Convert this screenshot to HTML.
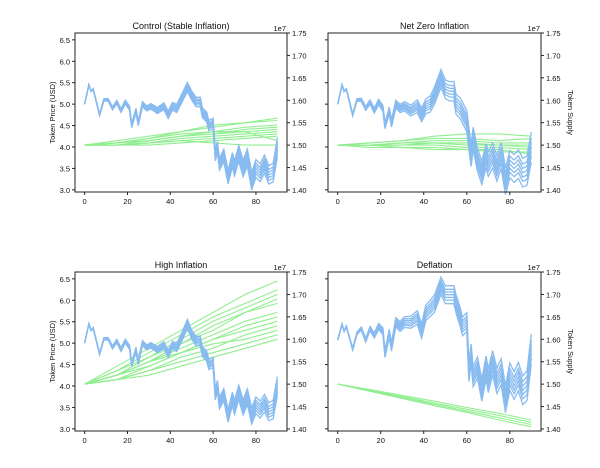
<!DOCTYPE html>
<html><head><meta charset="utf-8"><style>
html,body{margin:0;padding:0;background:#fff;}
svg{display:block;font-family:"Liberation Sans","DejaVu Sans",sans-serif;}
</style></head><body>
<svg id="chart" width="600" height="468" viewBox="0 0 600 468"></svg>
<script>
// ---- data ----
const days = [0,2,3,4,7,9,11,13,15,17,19,21,22,24,25,27,29,31,34,37,39,41,43,45,48,50,52,54,55,57,58,60,61,62,63,65,67,69,70,72,74,76,78,80,82,84,86,88,90];
const priceControl = [5.0,5.45,5.3,5.35,4.75,5.1,5.1,4.9,5.05,4.85,5.05,4.9,4.5,4.85,4.55,5.0,4.9,4.95,4.85,4.95,4.75,4.95,4.9,5.1,5.4,5.2,5.05,5.05,4.8,4.7,4.5,4.55,3.8,4.0,3.6,3.8,3.3,3.7,3.5,3.85,3.5,3.75,3.2,3.5,3.4,3.6,3.35,3.4,4.0];
const priceNetZero = [5.0,5.45,5.3,5.35,4.75,5.1,5.1,4.9,5.05,4.85,5.05,4.9,4.5,4.85,4.55,5.0,4.9,4.95,4.85,4.95,4.75,4.95,5.0,5.2,5.6,5.35,5.3,5.3,5.0,4.9,4.8,4.6,4.2,3.8,4.2,3.7,3.4,3.8,3.6,3.8,3.5,3.8,3.2,3.6,3.5,3.6,3.4,3.45,4.0];
const priceHigh = [5.0,5.45,5.3,5.35,4.75,5.1,5.1,4.9,5.05,4.85,5.05,4.9,4.5,4.85,4.55,5.0,4.9,4.95,4.85,4.95,4.75,4.95,4.9,5.1,5.45,5.2,5.05,5.05,4.8,4.7,4.5,4.55,3.8,4.0,3.6,3.8,3.3,3.7,3.5,3.85,3.5,3.75,3.3,3.55,3.45,3.6,3.4,3.45,4.0];
const priceDeflation = [5.07,5.44,5.28,5.39,4.86,5.23,5.34,5.07,5.34,5.18,5.39,5.28,4.75,5.23,4.91,5.49,5.39,5.49,5.49,5.6,5.28,5.71,5.81,5.92,6.34,6.13,6.13,6.13,5.92,5.6,5.39,5.49,4.33,4.75,4.22,4.43,3.9,4.43,4.12,4.54,4.12,4.33,3.69,4.22,4.01,4.22,3.9,4.01,4.86];
const spreadDays = [0,15,30,45,60,75,90];
const spreadControl = [0,0.04,0.06,0.1,0.12,0.2,0.22];
const spreadNetZero = [0,0.05,0.1,0.2,0.25,0.3,0.35];
const spreadHigh = [0,0.04,0.06,0.1,0.12,0.18,0.22];
const spreadDeflation = [0,0.05,0.12,0.2,0.22,0.3,0.35];
const runFractions = [-1,-0.6,-0.3,0,0.3,0.6,1];
const supplyControl = [
[1.50,1.505,1.515,1.53,1.54,1.55,1.56],[1.50,1.51,1.52,1.53,1.545,1.55,1.555],
[1.50,1.505,1.51,1.52,1.53,1.54,1.545],[1.50,1.50,1.51,1.52,1.525,1.535,1.54],
[1.50,1.505,1.515,1.525,1.53,1.53,1.535],[1.50,1.50,1.505,1.515,1.52,1.525,1.53],
[1.50,1.50,1.505,1.51,1.515,1.52,1.525],[1.50,1.50,1.50,1.505,1.51,1.515,1.52],
[1.50,1.50,1.505,1.51,1.505,1.50,1.50],[1.50,1.505,1.51,1.52,1.525,1.53,1.51]];
const supplyNetZero = [
[1.50,1.505,1.51,1.52,1.525,1.525,1.52],[1.50,1.505,1.51,1.515,1.515,1.51,1.515],
[1.50,1.50,1.505,1.51,1.51,1.505,1.505],[1.50,1.50,1.50,1.505,1.50,1.50,1.50],
[1.50,1.50,1.50,1.50,1.495,1.495,1.49],[1.50,1.495,1.495,1.495,1.49,1.485,1.485],
[1.50,1.50,1.505,1.505,1.505,1.50,1.495],[1.50,1.50,1.495,1.49,1.49,1.49,1.48]];
const supplyHigh = [
[1.50,1.54,1.58,1.62,1.66,1.70,1.73],[1.50,1.53,1.57,1.61,1.65,1.68,1.71],
[1.50,1.53,1.56,1.60,1.64,1.67,1.70],[1.50,1.52,1.56,1.59,1.63,1.66,1.69],
[1.50,1.52,1.55,1.59,1.62,1.66,1.68],[1.50,1.52,1.55,1.58,1.61,1.64,1.66],
[1.50,1.52,1.54,1.57,1.60,1.63,1.65],[1.50,1.51,1.54,1.57,1.60,1.62,1.64],
[1.50,1.51,1.53,1.56,1.58,1.61,1.63],[1.50,1.51,1.53,1.55,1.57,1.59,1.61],
[1.50,1.52,1.55,1.57,1.59,1.60,1.62],[1.50,1.51,1.52,1.54,1.56,1.58,1.60]];
const supplyDeflation = [
[1.50,1.488,1.475,1.462,1.448,1.435,1.42],[1.50,1.486,1.472,1.458,1.444,1.43,1.415],
[1.50,1.485,1.47,1.455,1.44,1.425,1.41],[1.50,1.484,1.468,1.452,1.437,1.42,1.405]];
const xTicks = [0,20,40,60,80];
const priceTicks = [3.0,3.5,4.0,4.5,5.0,5.5,6.0,6.5];
const supplyTicks = [1.40,1.45,1.50,1.55,1.60,1.65,1.70,1.75];
const titles = ["Control (Stable Inflation)","Net Zero Inflation","High Inflation","Deflation"];

const NS="http://www.w3.org/2000/svg";
const svg=document.getElementById('chart');
function el(tag,attrs,parent){const e=document.createElementNS(NS,tag);for(const k in attrs)e.setAttribute(k,attrs[k]);(parent||svg).appendChild(e);return e;}
function interp(xs,ys,x){for(let i=0;i<xs.length-1;i++){if(x<=xs[i+1]){const f=(x-xs[i])/(xs[i+1]-xs[i]);return ys[i]+f*(ys[i+1]-ys[i]);}}return ys[ys.length-1];}

const panels=[
 {x:75,y:33,w:212,h:159,price:priceControl,spread:spreadControl,supply:supplyControl,left:true,slug:'control'},
 {x:328,y:33,w:213,h:159,price:priceNetZero,spread:spreadNetZero,supply:supplyNetZero,left:false,slug:'net-zero'},
 {x:75,y:272,w:212,h:159,price:priceHigh,spread:spreadHigh,supply:supplyHigh,left:true,slug:'high-inflation'},
 {x:328,y:272,w:213,h:159,price:priceDeflation,spread:spreadDeflation,supply:supplyDeflation,left:false,slug:'deflation'}];

panels.forEach((p,pi)=>{
 const g=el('g',{});
 
 
 const xs=v=>p.x+(v+4.5)/99*p.w;
 const yp=v=>p.y+(6.66-v)/(6.66-2.95)*p.h;
 const ys=v=>p.y+(1.75-v)/0.35*(p.h-2);
 p.supply.forEach((run,ri)=>{
  const d=run.map((v,i)=>(i?'L':'M')+xs(spreadDays[i]).toFixed(1)+','+ys(v).toFixed(1)).join('');
  const l=el('path',{d:d,fill:'none',stroke:'#90ee90','stroke-width':1.1},g);
  
  
 });
 runFractions.forEach(fr=>{
  const d=days.map((t,i)=>{const v=p.price[i]+fr*interp(spreadDays,p.spread,t);return (i?'L':'M')+xs(t).toFixed(1)+','+yp(v).toFixed(1);}).join('');
  const l=el('path',{d:d,fill:'none',stroke:'#88bbf0','stroke-width':1.3},g);
  
  
 });
 const fr=el('rect',{x:p.x,y:p.y,width:p.w,height:p.h,fill:'none',stroke:'#222','stroke-width':1},g);
 
 
 const t=el('text',{x:p.x+p.w/2,y:p.y-4,'text-anchor':'middle','font-size':9,fill:'#111'},g);
 t.textContent=titles[pi];
 
 
 const e7=el('text',{x:p.x+p.w-1,y:p.y-2,'text-anchor':'end','font-size':7.5,fill:'#111'},g);
 e7.textContent='1e7';
 
 
 xTicks.forEach(v=>{
  el('line',{x1:xs(v),x2:xs(v),y1:p.y+p.h,y2:p.y+p.h+3,stroke:'#222'},g);
  const tx=el('text',{x:xs(v),y:p.y+p.h+12,'text-anchor':'middle','font-size':7.5,fill:'#111'},g);
  tx.textContent=v;
  
  
 });
 priceTicks.forEach(v=>{
  el('line',{x1:p.x-3,x2:p.x,y1:yp(v),y2:yp(v),stroke:'#222'},g);
  if(p.left){
   const tx=el('text',{x:p.x-5,y:yp(v)+3,'text-anchor':'end','font-size':7.5,fill:'#111'},g);
   tx.textContent=v.toFixed(1);
   
   
  }
 });
 supplyTicks.forEach(v=>{
  el('line',{x1:p.x+p.w,x2:p.x+p.w+3,y1:ys(v),y2:ys(v),stroke:'#222'},g);
  const tx=el('text',{x:p.x+p.w+5,y:ys(v)+3,'font-size':7.5,fill:'#111'},g);
  tx.textContent=v.toFixed(2);
  
  
 });
 if(p.left){
  const yl=el('text',{x:0,y:0,'text-anchor':'middle','font-size':7.5,fill:'#111',transform:`translate(${p.x-20},${p.y+p.h/2}) rotate(-90)`},g);
  yl.textContent='Token Price (USD)';
  
  
 } else {
  const yl=el('text',{x:0,y:0,'text-anchor':'middle','font-size':7.5,fill:'#111',transform:`translate(${p.x+p.w+27},${p.y+p.h/2}) rotate(90)`},g);
  yl.textContent='Token Supply';
  
  
 }
});
</script>
</body></html>
